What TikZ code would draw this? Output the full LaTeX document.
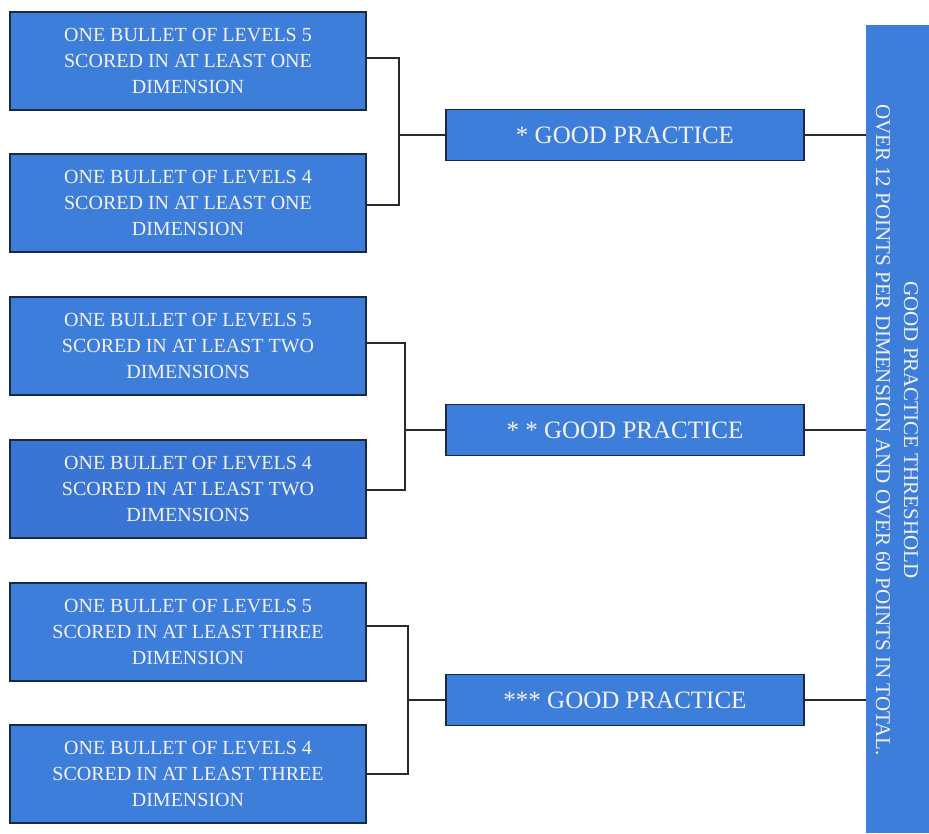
\documentclass[tikz,border=0pt]{standalone}
\usepackage{fontspec}
\setmainfont{Liberation Serif}
\definecolor{boxblue}{HTML}{3E7EDB}
\definecolor{boxblue2}{HTML}{3A75D6}
\definecolor{boxedge}{HTML}{1B2A44}
\definecolor{boxtext}{HTML}{F4F1E8}
\definecolor{linegray}{HTML}{2A2A2A}
\tikzset{
  leftbox/.style={draw=boxedge, line width=1.6pt, fill=boxblue, text=boxtext,
    minimum width=356pt, minimum height=98pt, align=center, inner sep=0pt,
    font=\fontsize{20}{26}\selectfont},
  midbox/.style={draw=boxedge, line width=1.6pt, fill=boxblue, text=boxtext,
    minimum width=358pt, minimum height=51pt, inner sep=0pt,
    font=\fontsize{25}{30}\selectfont},
  barbox/.style={fill=boxblue, draw=none, minimum width=70pt, minimum height=808pt, inner sep=0pt},
  bartext/.style={text=boxtext, align=center, rotate=-90,
    font=\fontsize{21}{28}\selectfont},
  conn/.style={draw=linegray, line width=1.1pt}
}
\begin{document}
\begin{tikzpicture}[x=1pt,y=-1pt]
\useasboundingbox (0,0) rectangle (929,833);
\fill[white] (0,0) rectangle (929,833);
% left boxes
\node[leftbox] (b1) at (188,61) {ONE BULLET OF LEVELS 5\\SCORED IN AT LEAST ONE\\DIMENSION};
\node[leftbox] (b2) at (188,203) {ONE BULLET OF LEVELS 4\\SCORED IN AT LEAST ONE\\DIMENSION};
\node[leftbox] (b3) at (188,346) {ONE BULLET OF LEVELS 5\\SCORED IN AT LEAST TWO\\DIMENSIONS};
\node[leftbox, fill=boxblue2] (b4) at (188,489) {ONE BULLET OF LEVELS 4\\SCORED IN AT LEAST TWO\\DIMENSIONS};
\node[leftbox] (b5) at (188,632) {ONE BULLET OF LEVELS 5\\SCORED IN AT LEAST THREE\\DIMENSION};
\node[leftbox] (b6) at (188,774) {ONE BULLET OF LEVELS 4\\SCORED IN AT LEAST THREE\\DIMENSION};
% middle boxes
\node[midbox] (m1) at (625,135) {* GOOD PRACTICE};
\node[midbox] (m2) at (625,430) {* * GOOD PRACTICE};
\node[midbox] (m3) at (625,700) {*** GOOD PRACTICE};
% right bar
\node[barbox, anchor=north west] (bar) at (866,25) {};
\node[bartext] (bt) at (897,430) {GOOD PRACTICE THRESHOLD\\OVER 12 POINTS PER DIMENSION AND OVER 60 POINTS IN TOTAL.};
% junctions
\coordinate (j1) at (399,135);
\coordinate (j2) at (405,430);
\coordinate (j3) at (408,700);
% connectors
\draw[conn] (b1.east |- 0,58) -| (j1) -- (m1.west);
\draw[conn] (b2.east |- 0,205) -| (j1);
\draw[conn] (b3.east |- 0,343) -| (j2) -- (m2.west);
\draw[conn] (b4.east |- 0,490) -| (j2);
\draw[conn] (b5.east |- 0,626) -| (j3) -- (m3.west);
\draw[conn] (b6.east |- 0,774) -| (j3);
\draw[conn] (m1.east) -- (m1.east -| bar.west);
\draw[conn] (m2.east) -- (m2.east -| bar.west);
\draw[conn] (m3.east) -- (m3.east -| bar.west);
\end{tikzpicture}
\end{document}
